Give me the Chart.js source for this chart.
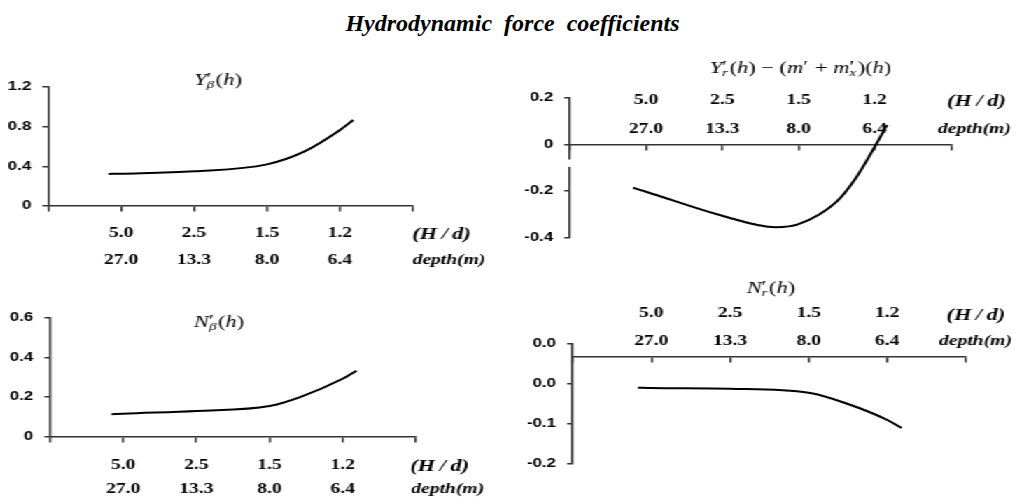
<!DOCTYPE html>
<html>
<head>
<meta charset="utf-8">
<script src="https://cdn.jsdelivr.net/npm/chart.js@4"></script>
<style>
  body { margin: 0; background: #fff; width: 1017px; height: 503px; overflow: hidden; position: relative; }
  #title { position: absolute; left: 4px; top: 12px; width: 1017px; text-align: center; font: italic bold 24px "Liberation Serif", serif; line-height: 22px; white-space: pre; color: #000; }
  /* the original figure is stretched sideways, so the whole chart stage is too */
  #stage { position: absolute; left: 0; top: 0; width: 727px; height: 503px; transform: scaleX(1.4); transform-origin: 0 0; }
  #stage canvas { position: absolute; }
</style>
</head>
<body>
<div id="title">Hydrodynamic  force  coefficients</div>
<div id="stage">
  <canvas id="ybChart" width="357" height="235" style="left:0;top:40px"></canvas>
  <canvas id="yrChart" width="370" height="220" style="left:357px;top:40px"></canvas>
  <canvas id="nbChart" width="357" height="228" style="left:0;top:275px"></canvas>
  <canvas id="nrChart" width="370" height="243" style="left:357px;top:260px"></canvas>
</div>
<script>
// x axis tick labels (two rows)
const hdLabels = ['5.0', '2.5', '1.5', '1.2'];
const depthLabels = ['27.0', '13.3', '8.0', '6.4'];

// Y'β(h)
const ybX = [0.83, 1, 2, 3, 3.5, 4, 4.18];
const ybY = [0.323, 0.326, 0.35, 0.42, 0.545, 0.767, 0.867];

// Y'r(h) - (m' + m'x)(h)
const yrX = [0.83, 1, 2, 2.7, 3, 3.5, 3.75, 4, 4.16];
const yrY = [-0.186, -0.203, -0.306, -0.355, -0.342, -0.245, -0.145, -0.01, 0.083];

// N'β(h)
const nbX = [0.84, 1, 2, 3, 3.42, 4, 4.19];
const nbY = [0.113, 0.116, 0.13, 0.155, 0.2, 0.292, 0.333];

// N'r(h)
const nrX = [0.83, 1, 2, 3, 3.5, 4, 4.18];
const nrY = [-0.0546, -0.055, -0.056, -0.061, -0.075, -0.095, -0.105];
const nrTickLabels = ['-0.2', '-0.1', '0.0', '0.0']; // bottom to top

const axisColor = '#333';
const serif = '"Liberation Serif", "DejaVu Serif", serif';

// draws a title like Y'β(h) with stacked prime / subscript
function drawRich(ctx, parts, cx, by) {
  const big = 16, small = 11;
  const ws = parts.map(p => {
    if (p.t !== undefined) {
      ctx.font = `${p.i ? 'italic ' : ''}${big}px ${serif}`;
      return ctx.measureText(p.t).width;
    }
    ctx.font = `${big}px ${serif}`;
    const a = p.sup ? ctx.measureText(p.sup).width : 0;
    ctx.font = `italic ${small}px ${serif}`;
    const b = p.sub ? ctx.measureText(p.sub).width : 0;
    return Math.max(a, b) + 1;
  });
  let x = cx - ws.reduce((a, b) => a + b, 0) / 2;
  ctx.textAlign = 'left';
  ctx.textBaseline = 'alphabetic';
  parts.forEach((p, k) => {
    if (p.t !== undefined) {
      ctx.font = `${p.i ? 'italic ' : ''}${big}px ${serif}`;
      ctx.fillText(p.t, x, by);
    } else {
      if (p.sup) { ctx.font = `${big}px ${serif}`; ctx.fillText(p.sup, x, by - 1); }
      if (p.sub) { ctx.font = `italic ${small}px ${serif}`; ctx.fillText(p.sub, x, by + 3); }
    }
    x += ws[k];
  });
}

// x labels, unit labels, panel title and y axis break
const axisText = {
  id: 'axisText',
  afterDraw(chart, args, o) {
    const { ctx, scales: { x, y } } = chart;
    const ay = y.getPixelForValue(o.cross);
    ctx.save();
    if (o.gap) {
      ctx.fillStyle = '#fff';
      const g1 = y.getPixelForValue(o.gap[0]), g2 = y.getPixelForValue(o.gap[1]);
      ctx.fillRect(x.left - 3, g1, 6, g2 - g1);
    }
    ctx.fillStyle = '#000';
    ctx.textAlign = 'center';
    ctx.textBaseline = 'middle';
    ctx.font = `bold 14px ${serif}`;
    hdLabels.forEach((t, i) => ctx.fillText(t, x.getPixelForValue(i + 1), ay + o.rows[0]));
    depthLabels.forEach((t, i) => ctx.fillText(t, x.getPixelForValue(i + 1), ay + o.rows[1]));
    const xe = x.getPixelForValue(5);
    ctx.font = `italic bold 16px ${serif}`;
    ctx.fillText('(H\u2009/\u2009d)', xe + o.unitDx[0], ay + o.rows[0] + 2);
    ctx.font = `italic bold 14px ${serif}`;
    ctx.fillText('depth(m)', xe + o.unitDx[1], ay + o.rows[1]);
    drawRich(ctx, o.title, o.tx, o.ty);
    ctx.restore();
  }
};

function makePanel(id, cfg) {
  const canvas = document.getElementById(id);
  const W = canvas.width, H = canvas.height, A = cfg.area;
  return new Chart(canvas, {
    type: 'line',
    data: {
      datasets: [{
        data: cfg.xs.map((v, i) => ({ x: v, y: cfg.ys[i] })),
        borderColor: '#000',
        borderWidth: 2,
        pointRadius: 0,
        cubicInterpolationMode: 'monotone',
        fill: false
      }]
    },
    options: {
      responsive: false,
      animation: false,
      layout: { padding: { left: 0, right: W - A.right, top: A.top, bottom: H - A.bottom } },
      plugins: {
        legend: { display: false },
        tooltip: { enabled: false },
        axisText: {
          cross: cfg.cross, rows: cfg.rows, unitDx: cfg.unitDx,
          title: cfg.title, tx: cfg.tx, ty: cfg.ty, gap: cfg.gap
        }
      },
      scales: {
        x: {
          type: 'linear', min: 0, max: 5,
          position: { y: cfg.cross },
          ticks: { display: false, stepSize: 1 },
          grid: { drawOnChartArea: false, tickLength: 5, color: axisColor, lineWidth: 1.5 },
          border: { color: axisColor, width: 1.5 }
        },
        y: {
          min: cfg.min, max: cfg.max,
          ticks: {
            stepSize: cfg.step,
            padding: 8,
            color: '#000',
            font: { family: '"Liberation Sans", Arial, sans-serif', size: 12, weight: 'bold' },
            callback: cfg.tickCb || (v => String(Math.round(v * 10) / 10))
          },
          grid: { drawOnChartArea: false, tickLength: 4, color: axisColor, lineWidth: 1.5 },
          border: { color: axisColor, width: 1.5 },
          afterFit: s => { s.width = A.left; }
        }
      }
    },
    plugins: [axisText]
  });
}

makePanel('ybChart', {
  xs: ybX, ys: ybY, min: 0, max: 1.2, step: 0.4, cross: 0,
  area: { left: 34.3, right: 295, top: 47, bottom: 166 },
  rows: [27, 54], unitDx: [20.4, 25.7],
  title: [{ t: 'Y', i: 1 }, { sup: '′', sub: 'β' }, { t: '(' }, { t: 'h', i: 1 }, { t: ')' }],
  tx: 155.7, ty: 45
});

makePanel('yrChart', {
  xs: yrX, ys: yrY, min: -0.4, max: 0.2, step: 0.2, cross: 0,
  area: { left: 50.1, right: 322.3, top: 57.7, bottom: 197.7 },
  rows: [-44.3, -15], unitDx: [18.2, 16.8],
  title: [{ t: 'Y', i: 1 }, { sup: '′', sub: 'r' }, { t: '(' }, { t: 'h', i: 1 }, { t: ') − (' },
          { t: 'm', i: 1 }, { sup: '′' }, { t: ' + ' }, { t: 'm', i: 1 }, { sup: '′', sub: 'x' },
          { t: ')(' }, { t: 'h', i: 1 }, { t: ')' }],
  tx: 214.8, ty: 33.3,
  gap: [-0.065, -0.097]
});

makePanel('nbChart', {
  xs: nbX, ys: nbY, min: 0, max: 0.6, step: 0.2, cross: 0,
  area: { left: 35.7, right: 296.9, top: 42.7, bottom: 161.7 },
  rows: [28.3, 52.6], unitDx: [17.1, 22.9],
  title: [{ t: 'N', i: 1 }, { sup: '′', sub: 'β' }, { t: '(' }, { t: 'h', i: 1 }, { t: ')' }],
  tx: 156.4, ty: 51.7
});

makePanel('nrChart', {
  xs: nrX, ys: nrY, min: -0.15, max: 0, step: 0.05, cross: -0.016,
  area: { left: 52.1, right: 333, top: 84, bottom: 204 },
  rows: [-43.4, -15], unitDx: [7.1, 6.8],
  title: [{ t: 'N', i: 1 }, { sup: '′', sub: 'r' }, { t: '(' }, { t: 'h', i: 1 }, { t: ')' }],
  tx: 193.7, ty: 33.3,
  tickCb: v => nrTickLabels[Math.round((v + 0.15) / 0.05)]
});
</script>
</body>
</html>
